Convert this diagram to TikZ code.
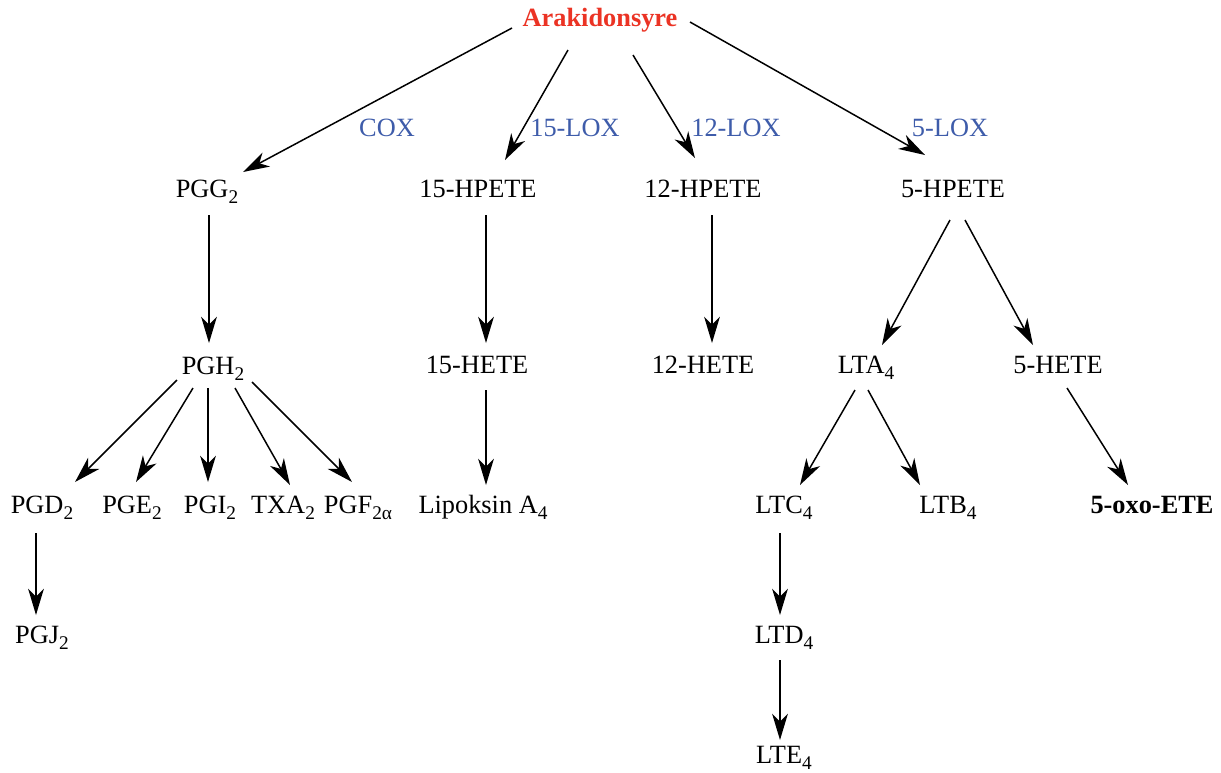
\documentclass[tikz,border=0pt]{standalone}
\usepackage{fontspec}
\setmainfont{Liberation Serif}
\usetikzlibrary{arrows.meta}
\definecolor{ara_red}{RGB}{235, 51, 36}
\definecolor{enzyme_blue}{RGB}{62, 92, 170}
\def \sub #1{\raisebox{-3.8pt}{\fontsize{11}{12}\selectfont #1}}

\begin{document}
\begin{tikzpicture}[
    x=0.02cm, y=-0.02cm,
    metabolite/.style={
        inner sep=0pt,
        text height=11pt,
        text depth=4pt,
        font=\fontsize{15}{18}\selectfont
    },
    enzyme/.style={
        metabolite,
        text=enzyme_blue
    },
    arrow/.style={
        -{Stealth[length=15pt, width=9pt, inset=4.5pt]},
        line width=0.85pt
    }
]
\useasboundingbox (0,0) rectangle (1221,772);

% Start
\node[metabolite, text=ara_red, font=\fontsize{15}{18}\selectfont\bfseries] (ara) at (600,20) {Arakidonsyre};

% Enzymes
\node[enzyme] (cox) at (387,130) {COX};
\node[enzyme] (lox15) at (575,130) {15-LOX};
\node[enzyme] (lox12) at (736,130) {12-LOX};
\node[enzyme] (lox5) at (950,130) {5-LOX};

% First products
\node[metabolite] (pgg) at (207,191) {PGG\sub{2}};
\node[metabolite] (hpete15) at (478,191) {15-HPETE};
\node[metabolite] (hpete12) at (703,191) {12-HPETE};
\node[metabolite] (hpete5) at (953,191) {5-HPETE};

% Second row
\node[metabolite] (pgh) at (213,368) {PGH\sub{2}};
\node[metabolite] (hete15) at (477,367) {15-HETE};
\node[metabolite] (hete12) at (703,367) {12-HETE};
\node[metabolite] (lta) at (866,367) {LTA\sub{4}};
\node[metabolite] (hete5) at (1058,367) {5-HETE};

% Third row
\node[metabolite] (pgd) at (42,507) {PGD\sub{2}};
\node[metabolite] (pge) at (132,507) {PGE\sub{2}};
\node[metabolite] (pgi) at (210,507) {PGI\sub{2}};
\node[metabolite] (txa) at (283,507) {TXA\sub{2}};
\node[metabolite] (pgf) at (358,507) {PGF\sub{2α}};
\node[metabolite] (lipo) at (483,507) {Lipoksin A\sub{4}};
\node[metabolite] (ltc) at (784,507) {LTC\sub{4}};
\node[metabolite] (ltb) at (948,507) {LTB\sub{4}};
\node[metabolite, font=\fontsize{15}{18}\selectfont\bfseries] (oxo) at (1152,507) {5-oxo-ETE};

% Bottom rows
\node[metabolite] (pgj) at (42,637) {PGJ\sub{2}};
\node[metabolite] (ltd) at (784,637) {LTD\sub{4}};
\node[metabolite] (lte) at (784,757) {LTE\sub{4}};

% From arachidonic acid
\draw[arrow] ([shift={(-88,8)}]ara.center) -- ([shift={(36,-19)}]pgg.center);
\draw[arrow] ([shift={(-32,30)}]ara.center) -- ([shift={(27,-31)}]hpete15.center);
\draw[arrow] ([shift={(33,35)}]ara.center) -- ([shift={(-8,-33)}]hpete12.center);
\draw[arrow] ([shift={(90,2)}]ara.center) -- ([shift={(-28,-36)}]hpete5.center);

% Down the columns
\draw[arrow] ([shift={(2,24)}]pgg.center) -- ([shift={(-4,-25)}]pgh.center);
\draw[arrow] ([shift={(8,24)}]hpete15.center) -- ([shift={(9,-24)}]hete15.center);
\draw[arrow] ([shift={(9,24)}]hpete12.center) -- ([shift={(9,-24)}]hete12.center);
\draw[arrow] ([shift={(-3,29)}]hpete5.center) -- ([shift={(16,-22)}]lta.center);
\draw[arrow] ([shift={(12,29)}]hpete5.center) -- ([shift={(-25,-22)}]hete5.center);

% Prostanoids
\draw[arrow] ([shift={(-36,12)}]pgh.center) -- ([shift={(33,-25)}]pgd.center);
\draw[arrow] ([shift={(-20,20)}]pgh.center) -- ([shift={(4,-25)}]pge.center);
\draw[arrow] ([shift={(-5,20)}]pgh.center) -- ([shift={(-2,-25)}]pgi.center);
\draw[arrow] ([shift={(22,20)}]pgh.center) -- ([shift={(7,-22)}]txa.center);
\draw[arrow] ([shift={(39,14)}]pgh.center) -- ([shift={(-6,-25)}]pgf.center);
\draw[arrow] ([shift={(-6,26)}]pgd.center) -- ([shift={(-6,-22)}]pgj.center);

% Lipoxin and leukotrienes
\draw[arrow] ([shift={(9,23)}]hete15.center) -- ([shift={(3,-22)}]lipo.center);
\draw[arrow] ([shift={(-11,23)}]lta.center) -- ([shift={(16,-22)}]ltc.center);
\draw[arrow] ([shift={(2,23)}]lta.center) -- ([shift={(-28,-22)}]ltb.center);
\draw[arrow] ([shift={(9,21)}]hete5.center) -- ([shift={(-24,-22)}]oxo.center);
\draw[arrow] ([shift={(-4,26)}]ltc.center) -- ([shift={(-4,-22)}]ltd.center);
\draw[arrow] ([shift={(-4,23)}]ltd.center) -- ([shift={(-4,-17)}]lte.center);

\end{tikzpicture}
\end{document}
